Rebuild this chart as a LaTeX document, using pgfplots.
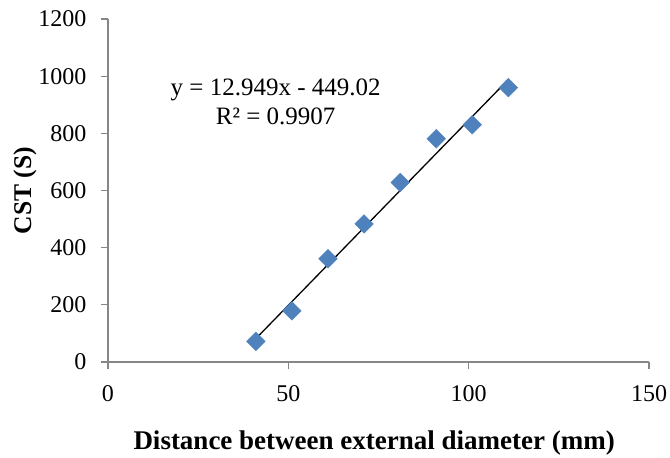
\documentclass[border=0pt]{standalone}
\usepackage{fontspec}
\setmainfont{Liberation Serif}
\usepackage{pgfplots}
\pgfplotsset{compat=1.18}
\definecolor{ptblue}{RGB}{79,129,189}
\definecolor{axgray}{RGB}{134,134,134}
\begin{document}
\begin{tikzpicture}
\path[use as bounding box] (-108pt,-96pt) rectangle (562pt,362pt);
\begin{axis}[
  scale only axis,
  width=541pt, height=343pt,
  xmin=0, xmax=150, ymin=0, ymax=1200,
  xtick={0,50,100,150},
  ytick={0,200,400,600,800,1000,1200},
  axis x line=bottom, axis y line=left,
  axis line style={-, axgray, line width=1.2pt},
  tick style={axgray, line width=1.2pt},
  tick align=outside,
  major tick length=7pt,
  tick label style={font=\fontsize{24}{28}\selectfont},
  /pgf/number format/assume math mode=true,
  /pgf/number format/1000 sep={},
  xticklabel style={yshift=-13pt},
  yticklabel style={xshift=-11pt},
  xlabel={\textbf{Distance between external diameter (mm)}},
  ylabel={\textbf{CST (S)}},
  xlabel style={font=\fontsize{27}{31}\selectfont, at={(axis description cs:0.492,-0.236)}, anchor=center},
  ylabel style={font=\fontsize{25.5}{29}\selectfont, at={(axis description cs:-0.1534,0.5)}, anchor=center},
  clip=false,
]
\addplot[only marks, mark=square*, mark size=6.6pt,
  mark options={rotate=45, fill=ptblue, draw=ptblue}]
  coordinates {(41,72) (51,179) (61,361) (71,483) (81,628) (91,781) (101,830) (111,960)};
\addplot[black, line width=1.3pt] coordinates {(41,81.89) (111,988.32)};
\node[align=center, font=\fontsize{25}{29}\selectfont] at (axis cs:46.5,909)
  {y = 12.949x - 449.02\\R² = 0.9907};
\end{axis}
\end{tikzpicture}
\end{document}
